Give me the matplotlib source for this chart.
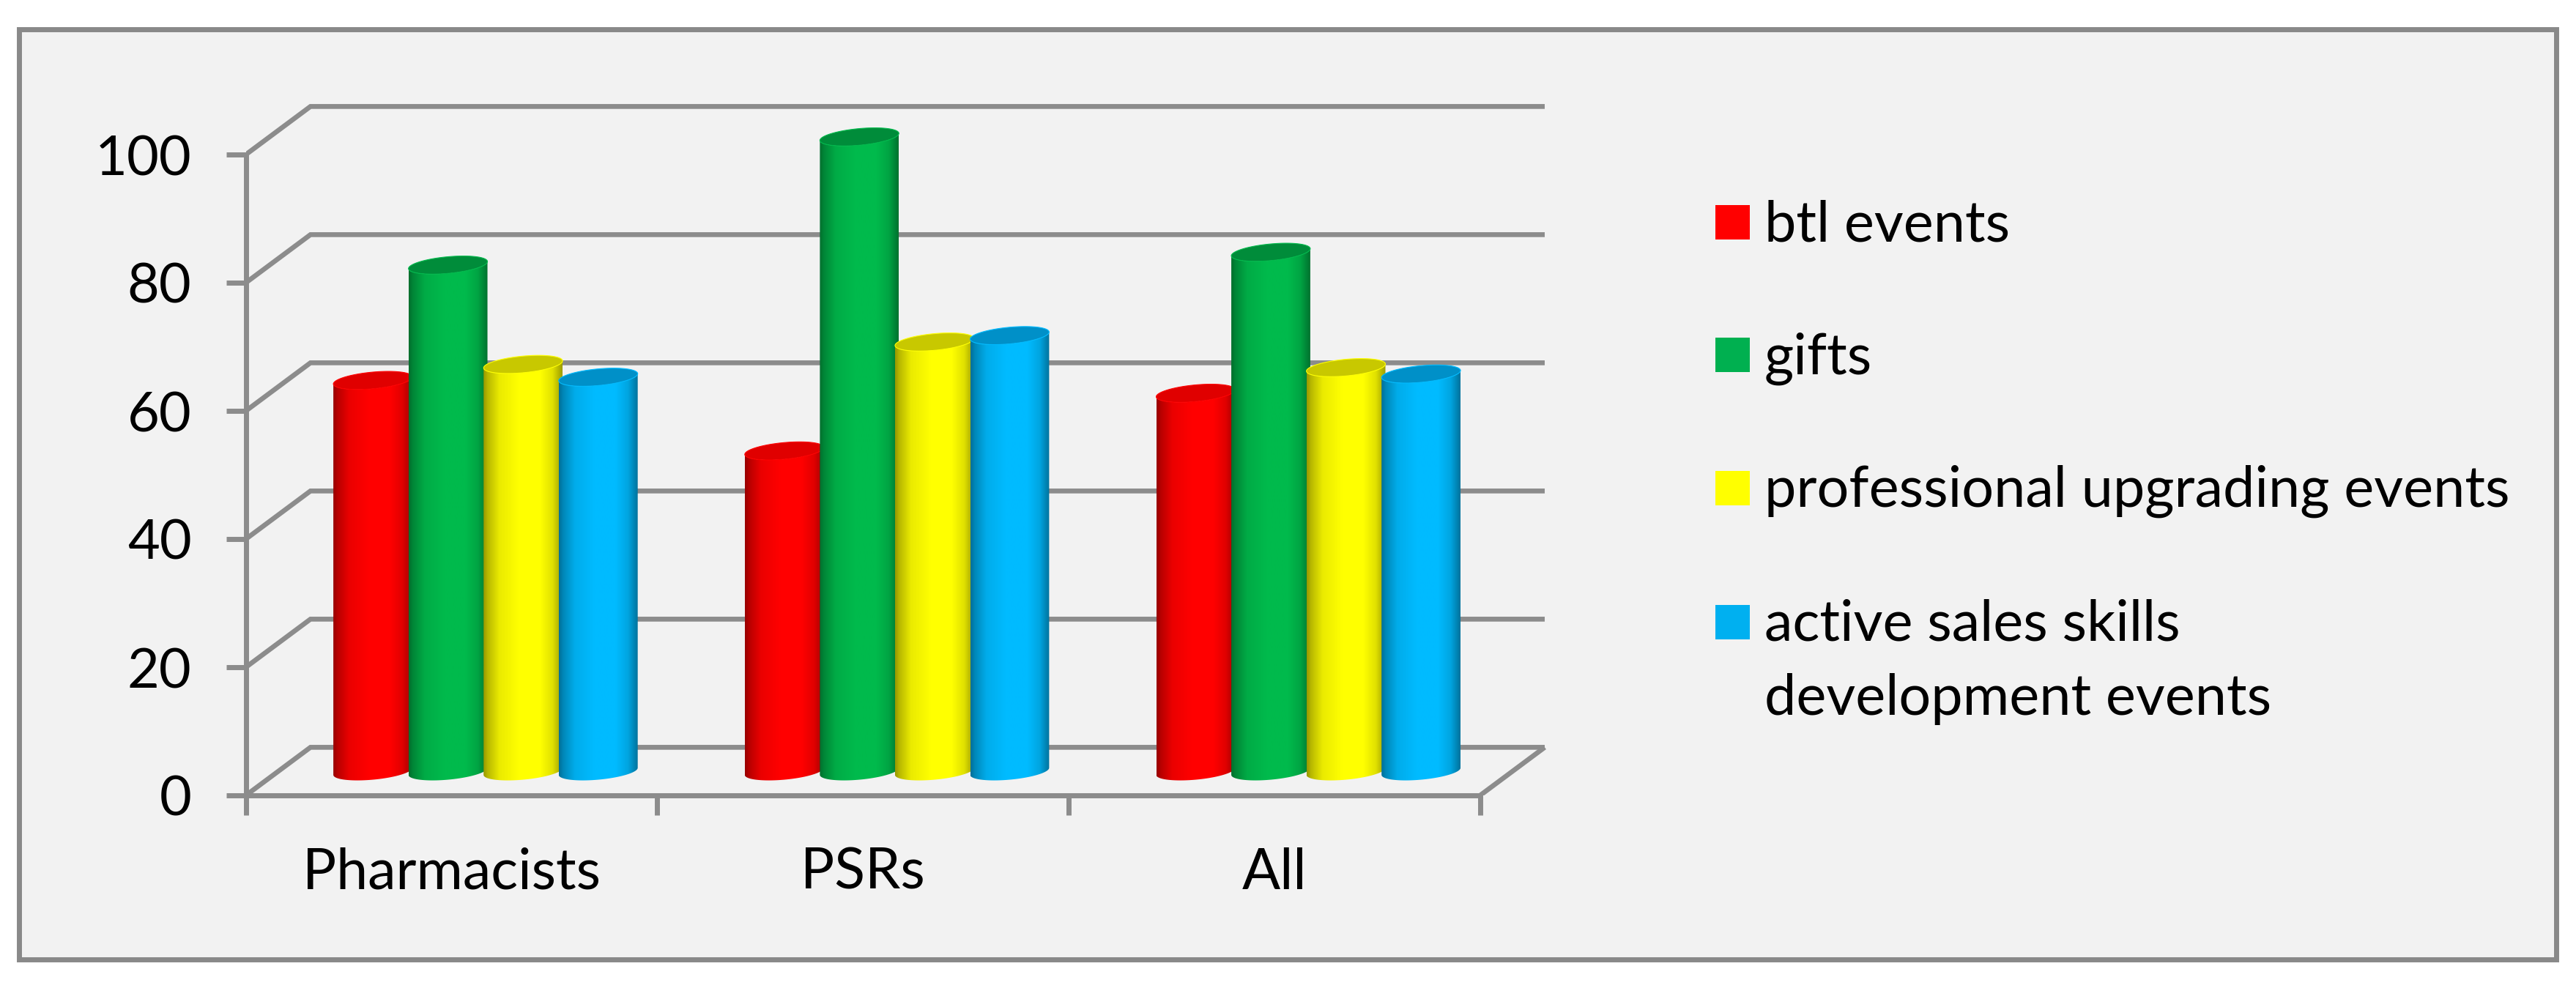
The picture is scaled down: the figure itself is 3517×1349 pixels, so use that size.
import numpy as np
import matplotlib
matplotlib.use("Agg")
import matplotlib.pyplot as plt
from matplotlib.patches import Polygon, Rectangle
from matplotlib.colors import to_rgb

categories = ["Pharmacists", "PSRs", "All"]
btl_events = [61, 50, 59]
gifts = [79, 99, 81]
professional_upgrading = [63.5, 67, 63]
active_sales = [61.5, 68, 62]
series_labels = ["btl events", "gifts", "professional upgrading events",
                 "active sales skills\ndevelopment events"]
bar_colors = ["#FF0000", "#00BA4C", "#FFFF00", "#00BBFF"]
top_colors = ["#E00000", "#008C3A", "#C8C800", "#0090C8"]
legend_colors = ["#FF0000", "#00B050", "#FFFF00", "#00B0F0"]
y_ticks = [0, 20, 40, 60, 80, 100]

W, H = 3517, 1349
plt.rcParams["font.family"] = ["Lato", "DejaVu Sans"]
fig = plt.figure(figsize=(W / 100, H / 100), dpi=100, facecolor="white")
GRID = "#8c8c8c"

def fx(p): return p / W
def fy(p): return 1 - p / H

# outer frame
fig.add_artist(Rectangle((fx(26), fy(1310)), fx(3490 - 26), (1310 - 40) / H,
                         transform=fig.transFigure, facecolor="#f2f2f2",
                         edgecolor="#898989", linewidth=5, zorder=-5))

# plot axes: x unit = 561.7 px, y unit = 8.75 px
XMAX, YMAX = 3.3, 112
ax = fig.add_axes([fx(335.7), fy(1086), XMAX * 561.7 / W, YMAX * 8.75 / H])
ax.patch.set_alpha(0)
ax.set_xlim(0, XMAX)
ax.set_ylim(0, YMAX)
for s in ("top", "right"):
    ax.spines[s].set_visible(False)
for s in ("left", "bottom"):
    ax.spines[s].set_color(GRID)
    ax.spines[s].set_linewidth(5)
ax.spines["left"].set_bounds(0, 100)
ax.spines["bottom"].set_bounds(0, len(categories))

n = len(categories)
ax.set_yticks(y_ticks)
ax.set_xticks(range(n + 1))
ax.set_xticklabels([])
ax.set_xticks(np.arange(n) + 0.5, categories, minor=True)
ax.tick_params(axis="y", length=19.4, width=5, color=GRID, pad=34, labelsize=54.5, labelcolor="black")
ax.tick_params(axis="x", which="major", length=19.4, width=5, color=GRID)
ax.tick_params(axis="x", which="minor", length=0, pad=51, labelsize=55.5, labelcolor="black")

# back walls (depth offsets in axis units)
DX, DY = 0.157, 7.5
for v in y_ticks:
    ax.plot([0, DX, n + DX], [v, v + DY, v + DY], color=GRID, lw=4.8, zorder=1,
            solid_joinstyle="miter", solid_capstyle="butt")
ax.plot([n, n + DX], [0, DY], color=GRID, lw=4.8, zorder=1, solid_capstyle="butt")

# cylinders
BAR_W, STEP = 0.192, 0.1826
A, B, SH = BAR_W / 2, 1.3, 0.55

def ell(cx, cy, t):
    return np.column_stack([cx + A * np.cos(t), cy + B * np.sin(t) + SH * np.cos(t)])

def shaded(col):
    t = np.linspace(0, 1, 96)
    f = np.interp(t, [0, 0.05, 0.2, 0.45, 0.72, 0.88, 1], [0.6, 0.72, 0.92, 1, 1, 0.88, 0.62])
    return (np.array(to_rgb(col))[None, :] * f[:, None])[None, :, :]

all_series = [btl_events, gifts, professional_upgrading, active_sales]
z = 3
for i, (vals, c, tc) in enumerate(zip(all_series, bar_colors, top_colors)):
    for k, v in enumerate(vals):
        cx = k + 0.504 + DX / 2 + (i - 1.5) * STEP
        low = ell(cx, DY / 2, np.linspace(np.pi, 2 * np.pi, 60))
        up = ell(cx, v + DY / 2, np.linspace(2 * np.pi, np.pi, 60))
        body = np.vstack([low, up, low[:1]])
        poly = Polygon(body, closed=True, facecolor="none", edgecolor="none")
        ax.add_patch(poly)
        im = ax.imshow(shaded(c), extent=[cx - A, cx + A, 0, v + DY], aspect="auto",
                       zorder=z, interpolation="bilinear", origin="lower")
        im.set_clip_path(poly)
        ax.add_patch(Polygon(ell(cx, v + DY / 2, np.linspace(0, 2 * np.pi, 90)), closed=True,
                             facecolor=tc, edgecolor=c, linewidth=0.8, zorder=z + 0.5))
    z += 1
ax.set_xlim(0, XMAX)
ax.set_ylim(0, YMAX)

# legend
sw_centres = [303.5, 485, 666.5, 849]
for lab, col, yc in zip(series_labels, legend_colors, sw_centres):
    fig.add_artist(Rectangle((fx(2342), fy(yc + 23.5)), 47 / W, 47 / H,
                             transform=fig.transFigure, facecolor=col, edgecolor="none"))
    lines = lab.split("\n")
    for j, line in enumerate(lines):
        fig.text(fx(2409), fy(yc - 3 + 102 * j), line, fontsize=55.7, color="black",
                 va="center_baseline", ha="left")

fig.savefig("out.png", dpi=100)
